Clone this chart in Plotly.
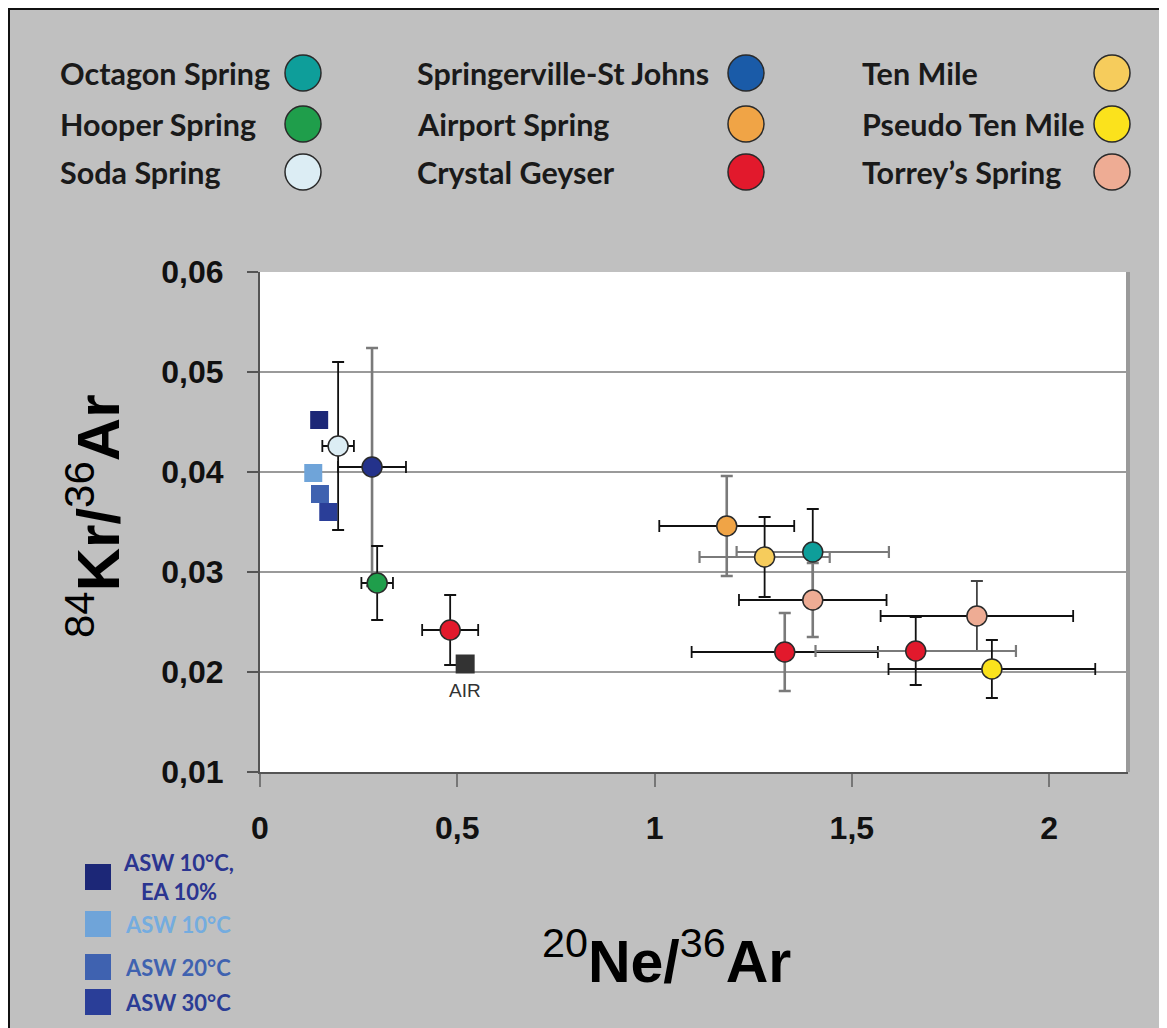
import plotly.graph_objects as go

# ---------------- data ----------------
site_names = ["Octagon Spring", "Hooper Spring", "Soda Spring",
              "Springerville-St Johns", "Airport Spring", "Crystal Geyser",
              "Ten Mile", "Pseudo Ten Mile", "Torrey’s Spring"]

pt_site = ["Soda Spring", "Springerville-St Johns", "Hooper Spring", "Crystal Geyser",
           "Airport Spring", "Ten Mile", "Octagon Spring", "Torrey’s Spring",
           "Torrey’s Spring", "Crystal Geyser", "Crystal Geyser", "Pseudo Ten Mile"]
pt_x = [0.198, 0.284, 0.297, 0.482, 1.183, 1.279, 1.401, 1.401, 1.817, 1.330, 1.662, 1.855]
pt_y = [0.0426, 0.0405, 0.0289, 0.0242, 0.0346, 0.0315, 0.0320, 0.0272, 0.0256, 0.0220, 0.0221, 0.0203]
pt_xerr = [0.040, 0.086, 0.040, 0.071, 0.171, 0.165, 0.193, 0.187, 0.244, 0.236, 0.254, 0.262]
pt_yerr = [0.0084, 0.0119, 0.0037, 0.0035, 0.0050, 0.0040, 0.0043, 0.0037, 0.0035, 0.0039, 0.0034, 0.0029]

asw_labels = ["ASW 10°C,<br>EA 10%", "ASW 10°C", "ASW 20°C", "ASW 30°C"]
asw_x = [0.150, 0.135, 0.152, 0.173]
asw_y = [0.0452, 0.0399, 0.0378, 0.0360]

air_label = "AIR"
air_x = [0.52]
air_y = [0.0208]

x_tickvals = [0, 0.5, 1, 1.5, 2]
x_ticktext = ["0", "0,5", "1", "1,5", "2"]
y_tickvals = [0.01, 0.02, 0.03, 0.04, 0.05, 0.06]

# ---------------- styles ----------------
site_colors = {
    "Octagon Spring": "#0e9e9a",
    "Hooper Spring": "#1f9e4b",
    "Soda Spring": "#dcedf4",
    "Springerville-St Johns": "#24328b",
    "Airport Spring": "#f0a446",
    "Crystal Geyser": "#e2192c",
    "Ten Mile": "#f6cc5c",
    "Pseudo Ten Mile": "#fbe21c",
    "Torrey’s Spring": "#eeac94",
}
legend_colors = dict(site_colors)
legend_colors["Springerville-St Johns"] = "#1a5ba8"

BLK = "#111111"
GRY = "#7a7a7a"
ex_color = [BLK, BLK, BLK, BLK, BLK, GRY, GRY, BLK, BLK, BLK, GRY, BLK]
ey_color = [BLK, GRY, BLK, BLK, GRY, BLK, BLK, GRY, "#444444", GRY, BLK, BLK]

asw_colors = ["#1c2777", "#6fa4d9", "#3f62b0", "#2a3e98"]
asw_text_colors = ["#2b3590", "#74acdf", "#3f62b0", "#2b3d95"]

LEGFONT = "Lato, Roboto, Liberation Sans, sans-serif"
ARIAL = "Liberation Sans, Arial, Helvetica, sans-serif"

# page offset (body margin) and plot-area box, all in page pixels
OFF = 8
W, H = 1167 - OFF, 1028 - OFF
L, R, T, B = 260 - OFF, 1128 - OFF, 272 - OFF, 772 - OFF


def px(x):
    return (x - OFF - L) / (R - L)


def py(y):
    return (B - (y - OFF)) / (B - T)


fig = go.Figure()

# error bars (drawn first, below markers)
for i in range(len(pt_x)):
    fig.add_trace(go.Scatter(
        x=[pt_x[i]], y=[pt_y[i]], mode="markers",
        marker=dict(size=1, opacity=0),
        error_x=dict(type="data", array=[pt_xerr[i]], color=ex_color[i],
                     thickness=2.2 if ex_color[i] == GRY else 1.8, width=6),
        error_y=dict(type="data", array=[pt_yerr[i]], color=ey_color[i],
                     thickness=2.6 if ey_color[i] == GRY else 1.8, width=6),
        showlegend=False, hoverinfo="skip"))

# ASW squares
for i in range(len(asw_x)):
    fig.add_trace(go.Scatter(
        x=[asw_x[i]], y=[asw_y[i]], mode="markers",
        marker=dict(symbol="square", size=18, color=asw_colors[i], line=dict(width=0)),
        name=asw_labels[i].replace("<br>", " "), showlegend=False))

# AIR
fig.add_trace(go.Scatter(
    x=air_x, y=air_y, mode="markers",
    marker=dict(symbol="square", size=19, color="#333333"),
    name=air_label, showlegend=False))

# data points
for i in range(len(pt_x)):
    fig.add_trace(go.Scatter(
        x=[pt_x[i]], y=[pt_y[i]], mode="markers",
        marker=dict(size=20, color=site_colors[pt_site[i]],
                    line=dict(color="#2a2a2a", width=1.5)),
        name=pt_site[i], showlegend=False))

shapes = []
annotations = []

annotations.append(dict(
    x=air_x[0], y=air_y[0], xref="x", yref="y", yshift=-26,
    xanchor="center", yanchor="middle", showarrow=False, text=air_label,
    font=dict(family=ARIAL, size=19, color="#333333")))

# custom legend (top)
col_text_x = [58, 415, 860]
col_circ_x = [303, 746, 1112]
row_y = [73, 124, 172]
for k, name in enumerate(site_names):
    c, r = divmod(k, 3)
    annotations.append(dict(
        xref="paper", yref="paper", x=px(col_text_x[c]), y=py(row_y[r]),
        xanchor="left", yanchor="middle", showarrow=False,
        text="<b>" + name + "</b>",
        font=dict(family=LEGFONT, size=30.5, color="#1a1a1a")))
    shapes.append(dict(
        type="circle", xref="paper", yref="paper",
        xsizemode="pixel", ysizemode="pixel",
        xanchor=px(col_circ_x[c]), yanchor=py(row_y[r]),
        x0=-18, x1=18, y0=-18, y1=18,
        fillcolor=legend_colors[name], line=dict(color="#2a2a2a", width=1.5)))

# ASW legend (bottom left)
asw_leg_y = [877, 924, 967, 1002]
for i in range(len(asw_labels)):
    shapes.append(dict(
        type="rect", xref="paper", yref="paper",
        xsizemode="pixel", ysizemode="pixel",
        xanchor=px(98), yanchor=py(asw_leg_y[i]),
        x0=-13, x1=13, y0=-13, y1=13,
        fillcolor=asw_colors[i], line=dict(width=0)))
    annotations.append(dict(
        xref="paper", yref="paper", x=px(178), y=py(asw_leg_y[i]),
        xanchor="center", yanchor="middle", showarrow=False, align="center",
        text="<b>" + asw_labels[i].replace("<br>", "</b><br><b>") + "</b>",
        font=dict(family=LEGFONT, size=22, color=asw_text_colors[i])))

# axis titles
annotations.append(dict(
    xref="paper", yref="paper", x=px(666), y=py(957),
    xanchor="center", yanchor="middle", showarrow=False,
    text="<sup>20</sup><b>Ne/</b><sup>36</sup><b>Ar</b>",
    font=dict(family=ARIAL, size=59, color="#000000")))
annotations.append(dict(
    xref="paper", yref="paper", x=px(94), y=py(517),
    xanchor="center", yanchor="middle", showarrow=False, textangle=-90,
    text="<sup>84</sup><b>Kr/</b><sup>36</sup><b>Ar</b>",
    font=dict(family=ARIAL, size=60, color="#000000")))

# right border shadow of plot area
shapes.append(dict(type="line", xref="paper", yref="paper",
                   x0=px(1128), x1=px(1128), y0=py(772), y1=py(272),
                   line=dict(color="#9a9a9a", width=4)))

# outer black frame (top and left)
shapes.append(dict(type="line", xref="paper", yref="paper",
                   x0=px(9), x1=px(9), y0=py(1100), y1=py(8),
                   line=dict(color="#111111", width=2)))
shapes.append(dict(type="line", xref="paper", yref="paper",
                   x0=px(8), x1=px(1200), y0=py(9), y1=py(9),
                   line=dict(color="#111111", width=2)))

fig.update_layout(
    width=W, height=H,
    margin=dict(l=L, r=W - R, t=T, b=H - B, pad=0),
    paper_bgcolor="#c0c0c0", plot_bgcolor="white",
    separators=", ",
    showlegend=False,
    shapes=shapes, annotations=annotations,
    xaxis=dict(range=[0, 2.2], tickvals=x_tickvals, ticktext=x_ticktext,
               showgrid=False, zeroline=False, showline=True,
               linecolor="#555555", linewidth=2,
               ticks="outside", ticklen=13, tickwidth=2, tickcolor="#777777",
               ticklabelstandoff=14,
               tickfont=dict(family=ARIAL, size=32, color="#111111", weight="bold")),
    yaxis=dict(range=[0.01, 0.06], tickvals=y_tickvals, tickformat=".2f",
               showgrid=True, gridcolor="#9a9a9a", gridwidth=1.5,
               zeroline=False, showline=True, linecolor="#555555", linewidth=2,
               ticks="outside", ticklen=11, tickwidth=2, tickcolor="#555555",
               ticklabelstandoff=17,
               tickfont=dict(family=ARIAL, size=32, color="#111111", weight="bold")),
)

fig.write_html("out.html")
